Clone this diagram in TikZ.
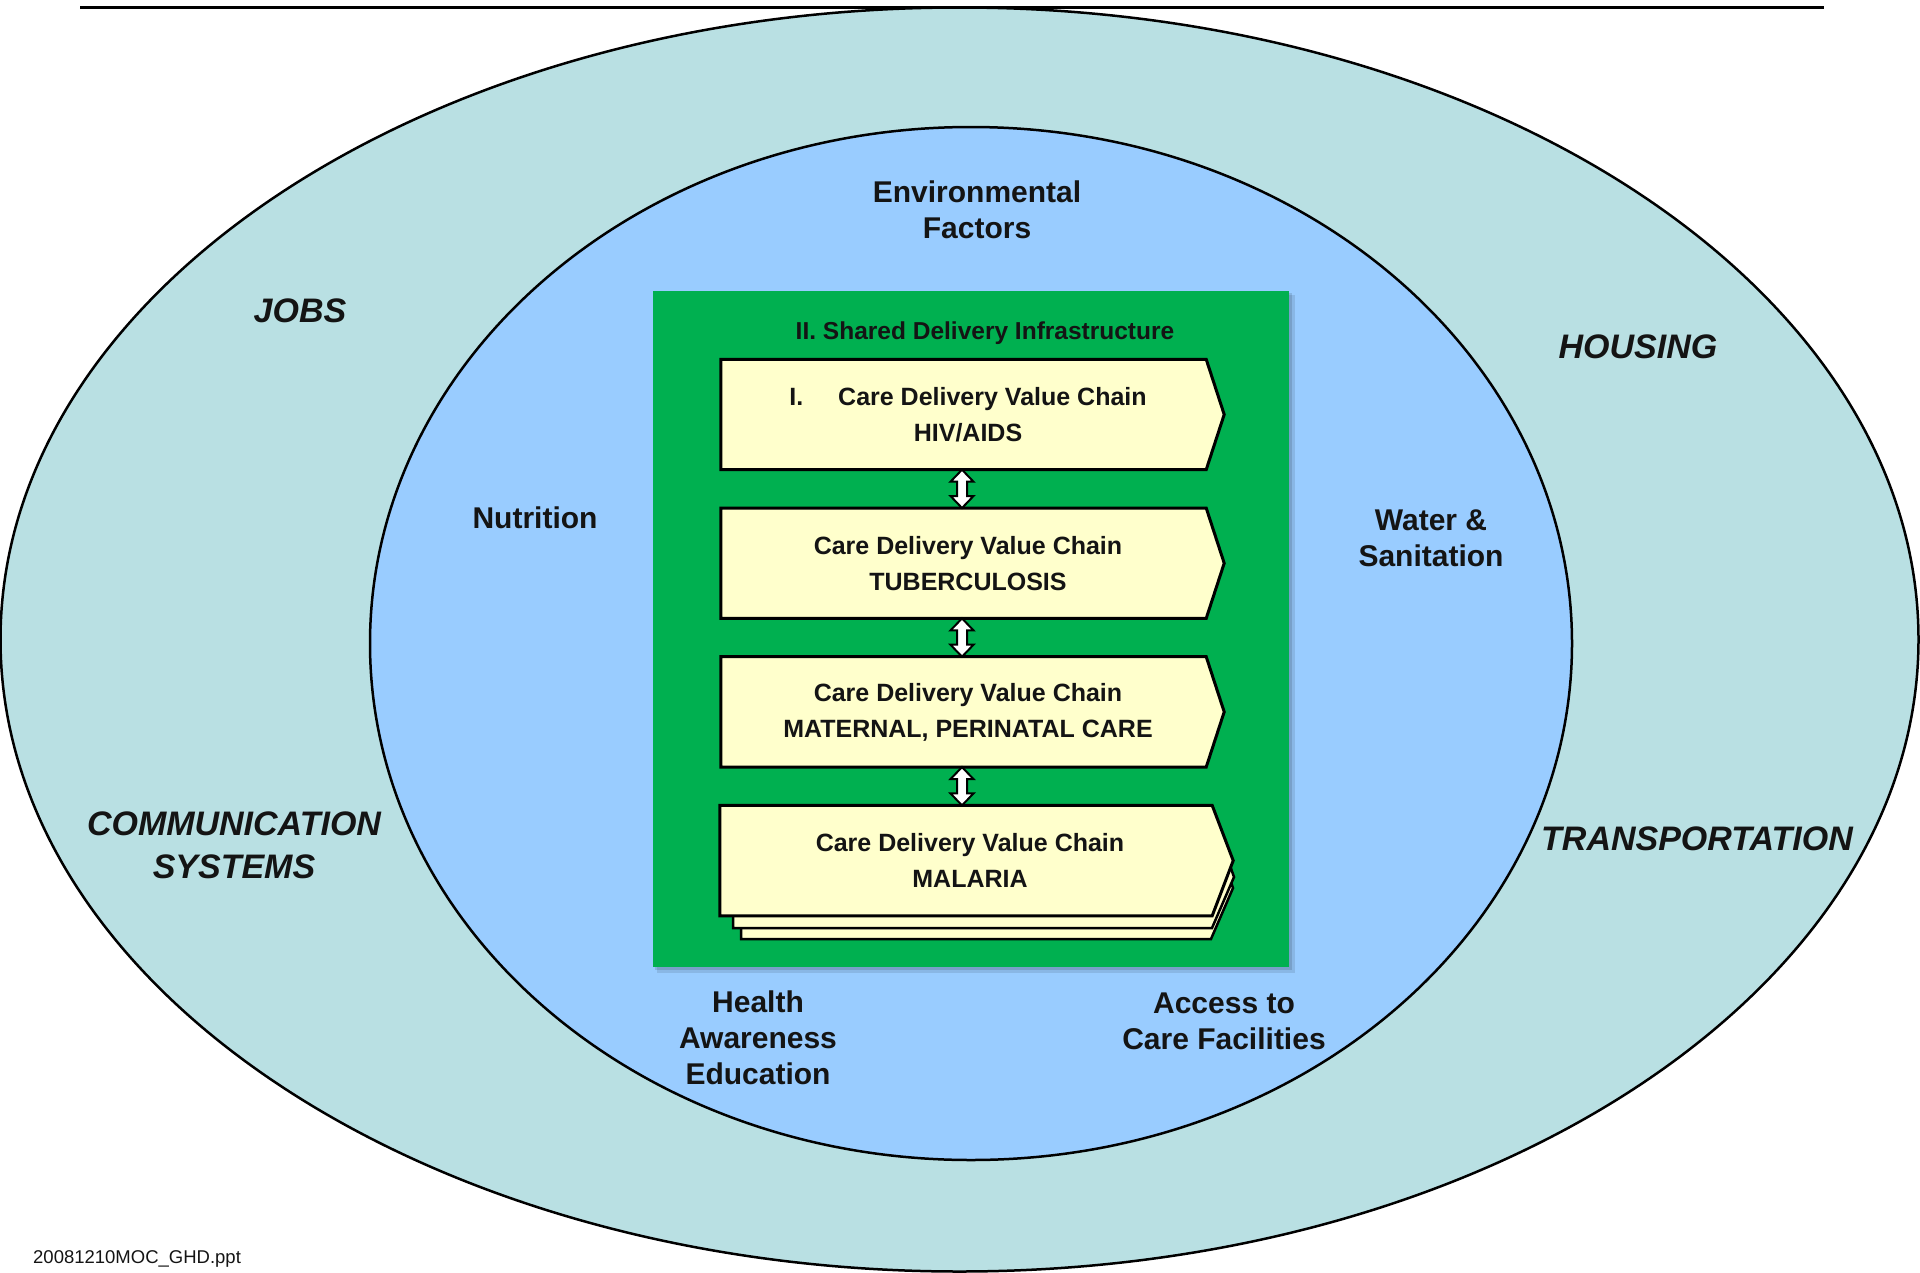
\documentclass[tikz,border=0pt]{standalone}
\usepackage{fontspec}
\setmainfont{Liberation Sans}
\usetikzlibrary{calc}
\definecolor{outerfill}{RGB}{185,224,227}
\definecolor{innerfill}{RGB}{153,204,255}
\definecolor{greenfill}{RGB}{0,176,80}
\definecolor{boxfill}{RGB}{255,255,204}
\definecolor{txt}{RGB}{20,20,20}
\begin{document}
\begin{tikzpicture}[x=1pt,y=-1pt,
  lbl/.style={font=\fontsize{30}{36}\selectfont\bfseries, align=center, inner sep=0pt, text=txt},
  ilbl/.style={font=\fontsize{34}{43}\selectfont\bfseries\itshape, align=center, inner sep=0pt, text=txt},
  boxnode/.style={minimum width=485pt, minimum height=110pt, inner sep=0pt},
  boxtxt/.style={font=\fontsize{25}{36}\selectfont\bfseries, align=center, inner sep=0pt, text=txt},
  chain/.style={draw=black, line width=3pt, fill=boxfill, line join=miter},
  arr/.style={draw=black, fill=white, line width=2pt, line join=miter},
  ring/.style={draw=black, line width=2.5pt},
]
\useasboundingbox (0,0) rectangle (1920,1272);
\fill[white] (0,0) rectangle (1920,1272);

% top rule
\coordinate (rl) at (80,7.5);
\coordinate (rr) at (1824,7.5);
\draw[line width=3pt] (rl) -- (rr);

% ellipses
\filldraw[ring, fill=outerfill] (959.5,639.5) ellipse [x radius=959pt, y radius=632pt];
\filldraw[ring, fill=innerfill] (971,643.5) ellipse [x radius=601pt, y radius=516.5pt];

% green box with shadow
\fill[black, opacity=0.10] (657,295) rectangle (1295,973);
\fill[black, opacity=0.12] (655,293) rectangle (1292,970);
\fill[greenfill] (653,291) rectangle (1289,967);

\node[font=\fontsize{24.5}{30}\selectfont\bfseries, inner sep=0pt, text=txt] (title) at (985,333) {II. Shared Delivery Infrastructure};

% box nodes
\node[boxnode] (b1) at (963.5,414.5) {};
\node[boxnode] (b2) at (963.5,563.2) {};
\node[boxnode] (b3) at (963.5,711.9) {};
\node[boxnode, minimum width=492pt] (b4) at (966,860.6) {};

% stacked copies behind malaria
\draw[chain, line width=2.5pt] (741,828) -- (1212,828) -- (1233,888) -- (1211,939) -- (741,939) -- cycle;
\draw[chain, line width=2.5pt] (733,817) -- (1213,817) -- (1234,877) -- (1212,928) -- (733,928) -- cycle;

\foreach \b/\e in {b1/18,b2/18,b3/18,b4/21}{
  \draw[chain] (\b.north west) -- (\b.north east) -- ([xshift=\e pt]\b.east) -- (\b.south east) -- (\b.south west) -- cycle;
}

\node[boxtxt] (t1) at ([xshift=4.5pt]b1.center) {I.\hspace{35pt}Care Delivery Value Chain\\HIV/AIDS};
\node[boxtxt] (t2) at ([xshift=4.5pt]b2.center) {Care Delivery Value Chain\\TUBERCULOSIS};
\node[boxtxt] (t3) at ([xshift=4.5pt]b3.center) {Care Delivery Value Chain\\MATERNAL, PERINATAL CARE};
\node[boxtxt] (t4) at ([xshift=4pt]b4.center) {Care Delivery Value Chain\\MALARIA};

% double block arrows between boxes
\foreach \t/\u in {b1/b2,b2/b3,b3/b4}{
  \path ([xshift=-1.5pt]\t.south) coordinate (t);
  \path let \p1=(t), \p2=(\u.north) in coordinate (u) at (\x1,\y2);
  \draw[arr] (t) -- ($(t)+(11.5,12)$) -- ($(t)+(5,12)$) -- ($(u)+(5,-12)$) -- ($(u)+(11.5,-12)$) -- (u)
    -- ($(u)+(-11.5,-12)$) -- ($(u)+(-5,-12)$) -- ($(t)+(-5,12)$) -- ($(t)+(-11.5,12)$) -- cycle;
}

% inner ring labels
\node[lbl] (env) at (977,210) {Environmental\\Factors};
\node[lbl] (nutr) at (535,518) {Nutrition};
\node[lbl] (water) at (1431,538.5) {Water \&\\Sanitation};
\node[lbl] (health) at (758,1038) {Health\\Awareness\\Education};
\node[lbl] (access) at (1224,1021.5) {Access to\\Care Facilities};

% outer ring labels
\node[ilbl] (jobs) at (300,311) {JOBS};
\node[ilbl] (housing) at (1638,346.5) {HOUSING};
\node[ilbl] (comm) at (234,845.5) {COMMUNICATION\\SYSTEMS};
\node[ilbl] (transp) at (1697,839) {TRANSPORTATION};

% footer
\node[font=\fontsize{18.5}{22}\selectfont, anchor=west, inner sep=0pt, text=txt] (foot) at (33,1259) {20081210MOC\_GHD.ppt};
\end{tikzpicture}
\end{document}
